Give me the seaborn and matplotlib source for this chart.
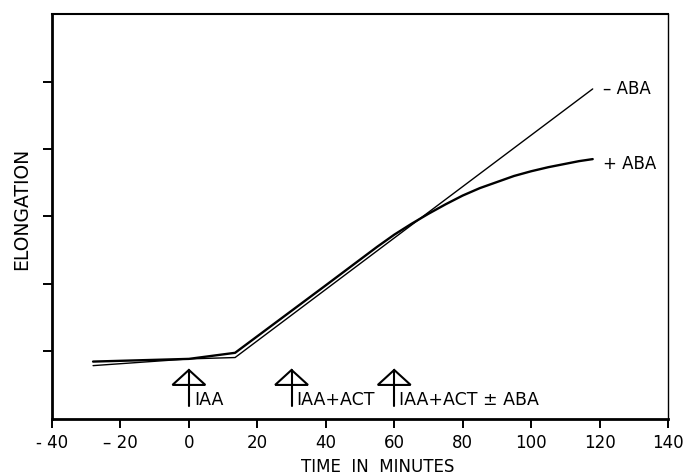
import matplotlib
matplotlib.use("Agg")
import matplotlib.pyplot as plt
import seaborn as sns
import pandas as pd
from matplotlib.patches import Polygon

# ---- data ----
minus_aba_time = [-28, 0, 13.5, 118]
minus_aba_elong = [0.79, 0.89, 0.91, 4.89]

plus_aba_time = [-28, 0, 13.5, 40, 55, 60, 65, 70, 75, 80, 85, 90, 95, 100, 105, 110, 114, 118]
plus_aba_elong = [0.85, 0.89, 0.98, 1.98, 2.55, 2.73, 2.89, 3.04, 3.18, 3.31, 3.42, 3.51, 3.60, 3.67, 3.73, 3.78, 3.82, 3.85]

series_labels = ["-ABA", "+ABA"]
arrow_times = [0, 30, 60]
arrow_labels = ["IAA", "IAA+ACT", "IAA+ACT \u00b1 ABA"]

x_ticks = [-40, -20, 0, 20, 40, 60, 80, 100, 120, 140]
x_tick_labels = ["- 40", "\u2013 20", "0", "20", "40", "60", "80", "100", "120", "140"]
y_ticks = [1, 2, 3, 4, 5]

# ---- figure ----
sns.set_style("ticks")
plt.rcParams["font.family"] = ["DejaVu Sans"]
plt.rcParams["text.color"] = "black"
plt.rcParams["axes.labelcolor"] = "black"

fig = plt.figure(figsize=(6.98, 4.75), dpi=100)
ax = fig.add_axes([0.0745, 0.118, 0.8825, 0.8525])

df = pd.concat([
    pd.DataFrame({"time": minus_aba_time, "elong": minus_aba_elong, "series": series_labels[0]}),
    pd.DataFrame({"time": plus_aba_time, "elong": plus_aba_elong, "series": series_labels[1]}),
])

sns.lineplot(data=df[df.series == series_labels[0]], x="time", y="elong",
             estimator=None, sort=False, color="black", linewidth=1.0, ax=ax)
sns.lineplot(data=df[df.series == series_labels[1]], x="time", y="elong",
             estimator=None, sort=False, color="black", linewidth=1.7, ax=ax)

# end labels
ax.text(minus_aba_time[-1] + 3, minus_aba_elong[-1], "\u2013 ABA", fontsize=12,
        va="center", ha="left")
ax.text(plus_aba_time[-1] + 3, plus_aba_elong[-1] - 0.07, "+ ABA", fontsize=12,
        va="center", ha="left")

# arrows
for t, lab in zip(arrow_times, arrow_labels):
    tri = Polygon([[t - 4.8, 0.504], [t + 4.8, 0.504], [t, 0.726]], closed=True,
                  fill=False, edgecolor="black", linewidth=1.5)
    ax.add_patch(tri)
    ax.plot([t, t], [0.19, 0.726], color="black", linewidth=1.5)
    ax.text(t + 1.5, 0.205, lab, fontsize=12.5, ha="left", va="baseline")

ax.set_xlim(-40, 140)
ax.set_ylim(0, 6)
ax.set_xticks(x_ticks)
ax.set_xticklabels(x_tick_labels, fontsize=12)
ax.set_yticks(y_ticks)
ax.set_yticklabels([])
ax.tick_params(axis="both", direction="out", length=6.5, width=1.4, colors="black", pad=4)

for side in ["left", "bottom"]:
    ax.spines[side].set_linewidth(2.0)
ax.spines["top"].set_linewidth(1.5)
ax.spines["right"].set_linewidth(1.0)
for s in ax.spines.values():
    s.set_visible(True)
    s.set_color("black")

ax.set_xlabel("TIME  IN  MINUTES", fontsize=12)
ax.xaxis.set_label_coords(0.528, -0.097)
ax.set_ylabel("ELONGATION", fontsize=13.5)
ax.yaxis.set_label_coords(-0.034, 0.52)

fig.savefig("out.png", dpi=100, facecolor="white")
